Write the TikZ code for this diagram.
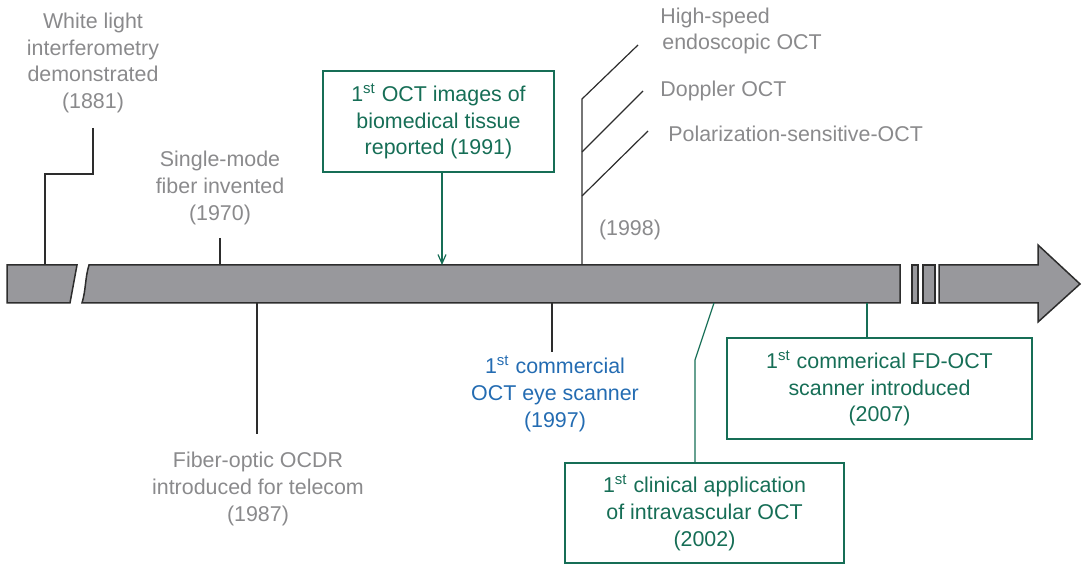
\documentclass[tikz,border=0pt]{standalone}
\usepackage{fontspec}
\setmainfont{Liberation Sans}
\usetikzlibrary{arrows.meta,positioning}
\definecolor{labelgray}{RGB}{138,138,140}
\definecolor{octgreen}{RGB}{22,110,86}
\definecolor{octblue}{RGB}{36,108,178}
\definecolor{barfill}{RGB}{152,152,156}
\definecolor{bardraw}{RGB}{45,45,45}
\begin{document}
\begin{tikzpicture}[
    x=0.5pt, y=-0.5pt,
    every node/.style={inner sep=0pt, align=center, font=\fontsize{10.7}{13.4}\selectfont},
    graytext/.style={text=labelgray},
    bluetext/.style={text=octblue},
    greenbox/.style={draw=octgreen, line width=0.6pt, text=octgreen},
    barpart/.style={fill=barfill, draw=bardraw, line width=0.75pt, line join=miter},
    tick/.style={draw=bardraw, line width=0.6pt},
    greenline/.style={draw=octgreen, line width=0.6pt}
]
\useasboundingbox (0,0) rectangle (1082,565);

\path[barpart] (7,265) -- (77,265) -- (70,303) -- (7,303) -- cycle;
\path[barpart] (89,265) -- (900,265) -- (900,303) -- (82,303)
    .. controls (86,290) and (85,278) .. cycle;
\path[barpart] (912,265) rectangle (918,303);
\path[barpart] (923,265) rectangle (935,303);
\path[barpart] (939,265) -- (1038,265) -- (1038,245) -- (1080,284)
    -- (1038,322) -- (1038,303) -- (939,303) -- cycle;

\node[graytext] (n1881) at (93,63) {White light\\interferometry\\demonstrated\\(1881)};
\node[graytext] (n1970) at (220,188) {Single-mode\\fiber invented\\(1970)};
\node[graytext] (n1987) at (258,489) {Fiber-optic OCDR\\introduced for telecom\\(1987)};
\node[greenbox, minimum width=115.5pt, minimum height=50.5pt] (n1991) at (438.5,121.5)
    {1\textsuperscript{st} OCT images of\\biomedical tissue\\reported (1991)};
\node[bluetext] (n1997) at (555,394) {1\textsuperscript{st} commercial\\OCT eye scanner\\(1997)};
\node[graytext] (n1998) at (630,230) {(1998)};
\node[graytext, anchor=west, align=left] (nendo) at (660,31) {High-speed\\\hspace{1pt}endoscopic OCT};
\node[graytext, anchor=west] (ndop) at (660,91) {Doppler OCT};
\node[graytext, anchor=west] (npol) at (668,134) {Polarization-sensitive-OCT};
\node[greenbox, minimum width=139.5pt, minimum height=50pt] (n2002) at (704.5,513)
    {1\textsuperscript{st} clinical application\\of intravascular OCT\\(2002)};
\node[greenbox, minimum width=152.5pt, minimum height=50.5pt] (n2007) at (879.5,388.5)
    {1\textsuperscript{st} commerical FD-OCT\\scanner introduced\\(2007)};

\coordinate (a1881) at (45,265);
\coordinate (k1881) at (93,128);
\coordinate (a1970) at (220,265);
\coordinate (k1970) at (220,238);
\coordinate (a1987) at (257,303);
\coordinate (k1987) at (257,434);
\coordinate (a1991) at (442,265);
\coordinate (a1997) at (552,303);
\coordinate (k1997) at (552,352);
\coordinate (a1998) at (582,265);
\coordinate (b1) at (582,99);
\coordinate (b2) at (582,152);
\coordinate (b3) at (582,196);
\coordinate (e1) at (638,45);
\coordinate (e2) at (643,91);
\coordinate (e3) at (648,131);
\coordinate (a2002) at (714,303);
\coordinate (k2002) at (695,360);
\coordinate (a2007) at (867,303);

\draw[tick] (k1881) |- (45,174) -- (a1881);
\draw[tick] (k1970) -- (a1970);
\draw[tick] (a1987) -- (k1987);
\draw[greenline, -{Straight Barb[length=4.5pt,width=4pt]}] (n1991.south -| a1991) -- (a1991);
\draw[tick] (a1997) -- (k1997);
\draw[tick] (a1998) -- (b1) -- (e1);
\draw[tick] (b2) -- (e2);
\draw[tick] (b3) -- (e3);
\draw[greenline] (a2002) -- (k2002) -- (k2002 |- n2002.north);
\draw[greenline] (a2007) -- (a2007 |- n2007.north);
\end{tikzpicture}
\end{document}
